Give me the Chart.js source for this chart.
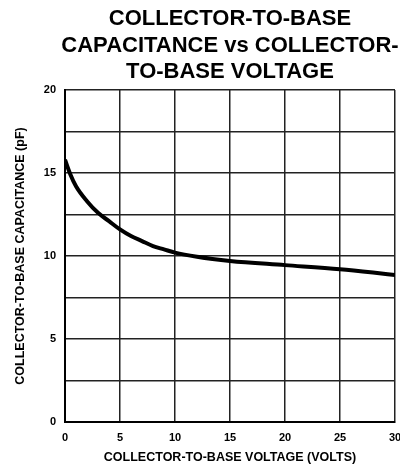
<!DOCTYPE html>
<html>
<head>
<meta charset="utf-8">
<script src="https://cdn.jsdelivr.net/npm/chart.js@4"></script>
<style>
  html, body { margin: 0; padding: 0; background: #fff; }
  #wrap { width: 400px; height: 468px; }
</style>
</head>
<body>
<div id="wrap"><canvas id="cap" width="400" height="468"></canvas></div>
<script>
const titleLines = ["COLLECTOR-TO-BASE", "CAPACITANCE vs COLLECTOR-", "TO-BASE VOLTAGE"];
const voltage = [0, 0.5, 1, 2, 3, 4, 5, 6, 7, 8, 9, 10, 12, 15, 20, 25, 28, 30];
const capacitance = [15.8, 14.9, 14.2, 13.3, 12.6, 12.1, 11.6, 11.2, 10.9, 10.6, 10.4, 10.2, 9.95, 9.7, 9.45, 9.2, 9.0, 8.85];
const xTicks = [0, 5, 10, 15, 20, 25, 30];
const yLabelled = [0, 5, 10, 15, 20];

const FONT = "'Liberation Sans', Arial, sans-serif";

// draws the 3-line title centred over the plot
const titlePlugin = {
  id: "bigTitle",
  afterDraw(chart) {
    const { ctx, chartArea } = chart;
    const cx = (chartArea.left + chartArea.right) / 2;
    ctx.save();
    ctx.font = "bold 22px " + FONT;
    ctx.fillStyle = "#000";
    ctx.textAlign = "center";
    ctx.textBaseline = "alphabetic";
    titleLines.forEach((t, i) => ctx.fillText(t, cx, 25 + i * 26.5));
    ctx.restore();
  }
};

new Chart(document.getElementById("cap").getContext("2d"), {
  type: "line",
  data: {
    datasets: [{
      data: voltage.map((v, i) => ({ x: v, y: capacitance[i] })),
      borderColor: "#000",
      borderWidth: 4,
      pointRadius: 0,
      cubicInterpolationMode: "monotone",
      fill: false
    }]
  },
  options: {
    responsive: false,
    animation: false,
    layout: { padding: { top: 90, right: 5, left: 0, bottom: 0 } },
    plugins: { legend: { display: false }, tooltip: { enabled: false }, title: { display: false } },
    scales: {
      x: {
        type: "linear",
        min: 0,
        max: 30,
        afterBuildTicks: s => { s.ticks = xTicks.map(v => ({ value: v })); },
        afterFit: s => { s.height = 46; s.paddingLeft = 0; s.paddingRight = 0; },
        grid: { color: "#222", lineWidth: 1.5, drawTicks: false },
        border: { color: "#000", width: 2 },
        ticks: { color: "#000", padding: 9, maxRotation: 0, font: { family: FONT, size: 11, weight: "bold" } },
        title: {
          display: true,
          text: "COLLECTOR-TO-BASE VOLTAGE (VOLTS)",
          color: "#000",
          padding: { top: 2, bottom: 3 },
          font: { family: FONT, size: 12.5, weight: "bold" }
        }
      },
      y: {
        min: 0,
        max: 20,
        ticks: {
          stepSize: 2.5,
          color: "#000",
          padding: 9,
          font: { family: FONT, size: 11, weight: "bold" },
          callback: v => yLabelled.includes(v) ? String(v) : ""
        },
        afterFit: s => { s.width = 65; s.paddingTop = 0; s.paddingBottom = 0; },
        grid: { color: "#222", lineWidth: 1.5, drawTicks: false },
        border: { color: "#000", width: 2 },
        title: {
          display: true,
          text: "COLLECTOR-TO-BASE CAPACITANCE (pF)",
          color: "#000",
          padding: { top: 13, bottom: 0 },
          font: { family: FONT, size: 12.5, weight: "bold" }
        }
      }
    }
  },
  plugins: [titlePlugin]
});
</script>
</body>
</html>
